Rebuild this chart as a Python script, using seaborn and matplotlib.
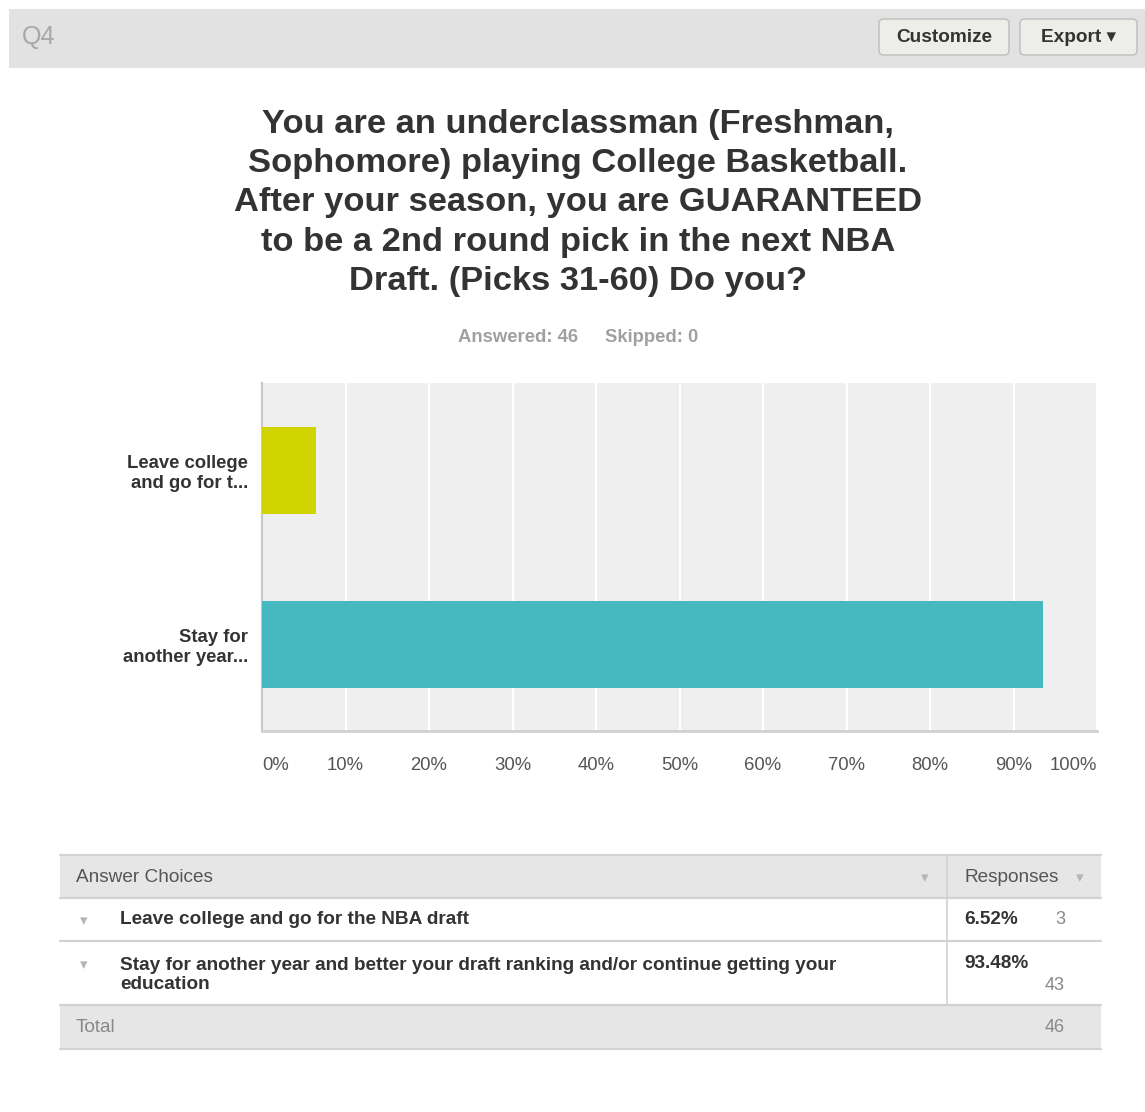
import matplotlib
matplotlib.use("Agg")
import matplotlib.pyplot as plt
from matplotlib.patches import Rectangle, FancyBboxPatch
import seaborn as sns
import pandas as pd

# ---- data ----
short_labels = ["Leave college\nand go for t...", "Stay for\nanother year..."]
full_labels = ["Leave college and go for the NBA draft",
               "Stay for another year and better your draft ranking and/or continue getting your\neducation"]
percents = [6.52, 93.48]
counts = [3, 43]
total = 46
skipped = 0
bar_colors = ["#d0d400", "#45b8c0"]
xtick_vals = [0, 10, 20, 30, 40, 50, 60, 70, 80, 90, 100]
xtick_labels = ["0%", "10%", "20%", "30%", "40%", "50%", "60%", "70%", "80%", "90%", "100%"]
title = ("You are an underclassman (Freshman,\nSophomore) playing College Basketball.\n"
         "After your season, you are GUARANTEED\nto be a 2nd round pick in the next NBA\n"
         "Draft. (Picks 31-60) Do you?")

sns.set_theme(style="white")
plt.rcParams['font.family'] = ['Liberation Sans', 'DejaVu Sans']

W, H = 1145, 1112
fig = plt.figure(figsize=(W / 100, H / 100), dpi=100)
fig.patch.set_facecolor("white")

def fx(x): return x / W
def fy(y): return 1 - y / H

def rect(x0, y0, x1, y1, fc, ec="none", lw=0, z=0):
    fig.add_artist(Rectangle((fx(x0), fy(y1)), fx(x1) - fx(x0), fy(y0) - fy(y1),
                             transform=fig.transFigure, facecolor=fc, edgecolor=ec, lw=lw, zorder=z))

def hline(x0, x1, y, c="#d2d2d2", lw=1.6):
    fig.add_artist(plt.Line2D([fx(x0), fx(x1)], [fy(y), fy(y)], transform=fig.transFigure, color=c, lw=lw))

def vline(x, y0, y1, c="#d2d2d2", lw=1.2):
    fig.add_artist(plt.Line2D([fx(x), fx(x)], [fy(y0), fy(y1)], transform=fig.transFigure, color=c, lw=lw))

def txt(x, y, s, size, color="#333333", weight="normal", ha="left", va="center", **kw):
    fig.text(fx(x), fy(y), s, fontsize=size * 0.72, color=color, weight=weight, ha=ha, va=va, **kw)

# ---- header bar ----
rect(9, 9, 1145, 68, "#e2e2e2")
txt(22, 37, "Q4", 25, color="#a8a8a8")
for (x0, x1, lab) in [(879, 1009, "Customize"), (1020, 1137, "Export \u25be")]:
    fig.add_artist(FancyBboxPatch((fx(x0), fy(55)), fx(x1) - fx(x0), fy(19) - fy(55),
                                  boxstyle="round,pad=0,rounding_size=0.004",
                                  transform=fig.transFigure, facecolor="#ededea",
                                  edgecolor="#bdbdbd", lw=1))
    txt((x0 + x1) / 2, 37, lab, 19, color="#333333", weight="bold", ha="center",
        family=['Liberation Sans', 'DejaVu Sans'])

# ---- title ----
txt(578, 203, title, 34.5, color="#333333", weight="bold", ha="center", linespacing=1.35)
txt(458, 337, f"Answered: {total}", 18.5, color="#a0a0a0", weight="bold", ha="left")
txt(605, 337, f"Skipped: {skipped}", 18.5, color="#a0a0a0", weight="bold", ha="left")

# ---- chart ----
ax = fig.add_axes([fx(262), fy(731), fx(1097) - fx(262), fy(383) - fy(731)])
df = pd.DataFrame({"label": short_labels, "pct": percents})
sns.barplot(data=df, x="pct", y="label", hue="label", palette=bar_colors,
            width=0.5, orient="h", legend=False, ax=ax, saturation=1, zorder=3,
            linewidth=0, edgecolor="none")
ax.set_facecolor("#efefef")
ax.set_xlim(0, 100)
ax.set_ylim(1.5, -0.5)
ax.set_xticks(xtick_vals)
ax.set_xticklabels(xtick_labels)
for i, t in enumerate(ax.get_xticklabels()):
    t.set_ha("left" if i == 0 else ("right" if i == len(xtick_vals) - 1 else "center"))
ax.tick_params(axis="x", length=0, pad=19, labelsize=18.5 * 0.72, labelcolor="#555555")
ax.tick_params(axis="y", length=0, pad=10, labelsize=18.5 * 0.72, labelcolor="#333333")
for t in ax.get_yticklabels():
    t.set_weight("bold")
    t.set_multialignment("right")
ax.set_xlabel("")
ax.set_ylabel("")
ax.grid(axis="x", color="white", lw=1.5, zorder=1)
ax.set_axisbelow(True)
for s in ["top", "right"]:
    ax.spines[s].set_visible(False)
ax.spines["left"].set_color("#c8c8c8")
ax.spines["bottom"].set_color("#d0d0d0")
ax.spines["left"].set_linewidth(1.5)
ax.spines["bottom"].set_linewidth(2)

# ---- table ----
rect(60, 855, 1101, 898, "#e6e6e6")
rect(60, 1005, 1101, 1049, "#e6e6e6")
hline(60, 1101, 855)
hline(60, 1101, 898)
hline(60, 1101, 941)
hline(60, 1101, 1005)
hline(60, 1101, 1049)
vline(947, 855, 1005)
txt(76, 877, "Answer Choices", 19, color="#555555")
txt(925, 878, "\u25be", 15, color="#b5b5b5", ha="center", family=['DejaVu Sans'])
txt(964, 877, "Responses", 19, color="#555555")
txt(1080, 878, "\u25be", 15, color="#b5b5b5", ha="center", family=['DejaVu Sans'])

row_y = [921, 965]
for y in row_y:
    txt(84, y, "\u25be", 15, color="#b5b5b5", ha="center", family=['DejaVu Sans'])
txt(120, 920, full_labels[0], 19, color="#333333", weight="bold")
txt(120, 975, full_labels[1], 19, color="#333333", weight="bold", linespacing=1.1)
txt(964, 920, f"{percents[0]:.2f}%", 19, color="#333333", weight="bold")
txt(1065, 920, f"{counts[0]}", 18, color="#888888", ha="right")
txt(964, 964, f"{percents[1]:.2f}%", 19, color="#333333", weight="bold")
txt(1065, 985, f"{counts[1]}", 18, color="#888888", ha="right")
txt(76, 1028, "Total", 19, color="#888888")
txt(1065, 1028, f"{total}", 18, color="#888888", ha="right")

fig.savefig("out.png", dpi=100, facecolor="white")
